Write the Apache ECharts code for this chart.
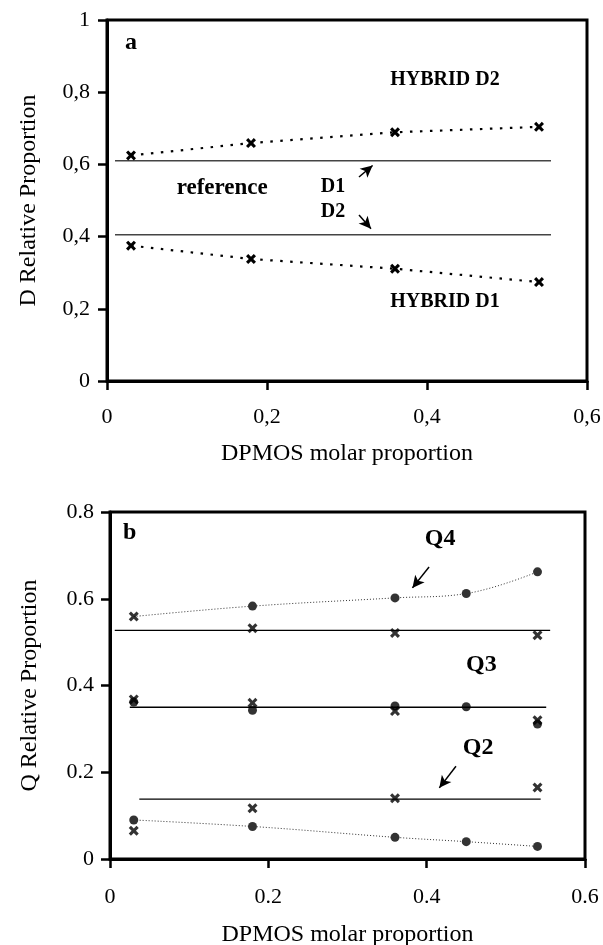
<!DOCTYPE html>
<html>
<head>
<meta charset="utf-8">
<title>D and Q relative proportions</title>
<script src="https://cdn.jsdelivr.net/npm/echarts@6/dist/echarts.min.js"></script>
<style>
  html, body { margin: 0; padding: 0; background: #fff; }
  #chart { width: 603px; height: 945px; }
</style>
</head>
<body>
<div id="chart"></div>
<script>
// panel a : D units
const xA = [0.03, 0.18, 0.36, 0.54];
const hybridD2 = [0.625, 0.659, 0.689, 0.704];
const hybridD1 = [0.375, 0.338, 0.311, 0.274];
const refD = [0.61, 0.405];          // reference D1 / D2 levels
const refSpanA = [0.01, 0.555];

// panel b : Q units
const xCross = [0.03, 0.18, 0.36, 0.54];
const xDot = [0.03, 0.18, 0.36, 0.45, 0.54];
const q4Cross = [0.559, 0.532, 0.521, 0.516];
const q3Cross = [0.368, 0.36, 0.341, 0.32];
const q2Cross = [0.065, 0.117, 0.14, 0.165];
const q4Dot = [null, 0.583, 0.602, 0.612, 0.662];
const q4Curve = [0.559, 0.583, 0.602, 0.612, 0.662];
const q3Dot = [0.362, 0.343, 0.353, 0.351, 0.311];
const q2Dot = [0.09, 0.075, 0.05, 0.04, 0.029];
const refQ = [0.527, 0.35, 0.138];   // Q4, Q3, Q2 reference levels
const refSpanB = [[0.006, 0.556], [0.025, 0.551], [0.037, 0.544]];

const serif = '"Liberation Serif", "DejaVu Serif", serif';
const cross = 'path://M2.2,0L5,2.8L7.8,0L10,2.2L7.2,5L10,7.8L7.8,10L5,7.2L2.2,10L0,7.8L2.8,5L0,2.2Z';

const pairs = (xs, ys) => xs.map((x, i) => ys[i] == null ? null : [x, ys[i]]).filter(p => p);

const chart = echarts.init(document.getElementById('chart'), null, {renderer: 'canvas'});

const axisCommon = {
  type: 'value',
  nameLocation: 'middle',
  nameTextStyle: {fontFamily: serif, fontSize: 24, color: '#000'},
  axisLine: {show: true, onZero: false, lineStyle: {color: '#000', width: 3}},
  axisTick: {show: true, inside: false, length: 9, lineStyle: {color: '#000', width: 2.5}},
  splitLine: {show: false},
  axisLabel: {fontFamily: serif, fontSize: 22, color: '#000'}
};
const commaFmt = v => String(+v.toFixed(1)).replace('.', ',');
const dotFmt = v => String(+v.toFixed(1));

const arrowMark = (pairsList) => ({
  silent: true, symbol: ['none', 'arrow'], symbolSize: [9, 12],
  label: {show: false},
  lineStyle: {color: '#000', width: 1.5, type: 'solid'},
  data: pairsList.map(p => [{coord: p[0]}, {coord: p[1]}])
});

const option = {
  animation: false,
  backgroundColor: '#fff',
  grid: [
    {left: 107, top: 20, width: 480, height: 361, show: true, borderColor: '#000', borderWidth: 3,
      outerBoundsMode: 'none', containLabel: false},
    {left: 110, top: 512, width: 475, height: 347, show: true, borderColor: '#000', borderWidth: 3,
      outerBoundsMode: 'none', containLabel: false}
  ],
  xAxis: [
    Object.assign({}, axisCommon, {
      gridIndex: 0, min: 0, max: 0.6, interval: 0.2, name: 'DPMOS molar proportion', nameGap: 61,
      axisLabel: Object.assign({}, axisCommon.axisLabel, {margin: 25, formatter: commaFmt})
    }),
    Object.assign({}, axisCommon, {
      gridIndex: 1, min: 0, max: 0.6, interval: 0.2, name: 'DPMOS molar proportion', nameGap: 64,
      axisLabel: Object.assign({}, axisCommon.axisLabel, {margin: 27, formatter: dotFmt})
    })
  ],
  yAxis: [
    Object.assign({}, axisCommon, {
      gridIndex: 0, min: 0, max: 1, interval: 0.2, name: 'D Relative Proportion', nameGap: 66,
      axisLabel: Object.assign({}, axisCommon.axisLabel, {margin: 17, formatter: commaFmt})
    }),
    Object.assign({}, axisCommon, {
      gridIndex: 1, min: 0, max: 0.8, interval: 0.2, name: 'Q Relative Proportion', nameGap: 68,
      axisLabel: Object.assign({}, axisCommon.axisLabel, {margin: 16, formatter: dotFmt})
    })
  ],
  series: [
    // panel a reference lines + arrows
    ...refD.map((v, i) => ({
      type: 'line', xAxisIndex: 0, yAxisIndex: 0, showSymbol: false, silent: true,
      data: refSpanA.map(x => [x, v]),
      lineStyle: {color: '#444', width: 1.5},
      markLine: i === 0 ? arrowMark([
        [[0.315, 0.565], [0.332, 0.597]],
        [[0.315, 0.46], [0.33, 0.422]]
      ]) : undefined
    })),
    {
      name: 'HYBRID D2', type: 'line', xAxisIndex: 0, yAxisIndex: 0,
      data: pairs(xA, hybridD2), symbol: cross, symbolSize: 10,
      itemStyle: {color: '#000'}, lineStyle: {color: '#000', width: 2.2, type: [2.5, 7.5]}
    },
    {
      name: 'HYBRID D1', type: 'line', xAxisIndex: 0, yAxisIndex: 0,
      data: pairs(xA, hybridD1), symbol: cross, symbolSize: 10,
      itemStyle: {color: '#000'}, lineStyle: {color: '#000', width: 2.2, type: [2.5, 7.5]}
    },
    // panel b reference lines + arrows
    ...refQ.map((v, i) => ({
      type: 'line', xAxisIndex: 1, yAxisIndex: 1, showSymbol: false, silent: true,
      data: refSpanB[i].map(x => [x, v]),
      lineStyle: {color: '#000', width: 1.4},
      markLine: i === 0 ? arrowMark([
        [[0.403, 0.673], [0.382, 0.625]],
        [[0.437, 0.214], [0.416, 0.164]]
      ]) : undefined
    })),
    {
      type: 'line', xAxisIndex: 1, yAxisIndex: 1, showSymbol: false, smooth: 0.4,
      data: pairs(xDot, q4Curve), lineStyle: {color: '#333', width: 1, type: [1, 2]}
    },
    {
      type: 'line', xAxisIndex: 1, yAxisIndex: 1, showSymbol: false, smooth: 0.4,
      data: pairs(xDot, q2Dot), lineStyle: {color: '#333', width: 1, type: [1, 2]}
    },
    ...[q4Dot, q3Dot, q2Dot].map(d => ({
      type: 'scatter', xAxisIndex: 1, yAxisIndex: 1, symbol: 'circle', symbolSize: 9,
      data: pairs(xDot, d), itemStyle: {color: '#000'}
    })),
    ...[q4Cross, q3Cross, q2Cross].map(d => ({
      type: 'scatter', xAxisIndex: 1, yAxisIndex: 1, symbol: cross, symbolSize: 10,
      data: pairs(xCross, d), itemStyle: {color: '#000'}, z: 3
    }))
  ]
};
chart.setOption(option);

// text annotations placed in data coordinates
const notes = [
  {grid: 0, at: [0.03, 0.936], text: 'a', size: 24},
  {grid: 0, at: [0.4225, 0.834], text: 'HYBRID D2', size: 20},
  {grid: 0, at: [0.144, 0.535], text: 'reference', size: 23},
  {grid: 0, at: [0.2825, 0.537], text: 'D1', size: 20},
  {grid: 0, at: [0.2825, 0.468], text: 'D2', size: 20},
  {grid: 0, at: [0.4225, 0.219], text: 'HYBRID D1', size: 20},
  {grid: 1, at: [0.025, 0.752], text: 'b', size: 24},
  {grid: 1, at: [0.417, 0.738], text: 'Q4', size: 24},
  {grid: 1, at: [0.469, 0.447], text: 'Q3', size: 24},
  {grid: 1, at: [0.465, 0.256], text: 'Q2', size: 24}
];
chart.setOption({
  graphic: notes.map(n => {
    const p = chart.convertToPixel({gridIndex: n.grid}, n.at);
    return {
      type: 'text', x: p[0], y: p[1], silent: true,
      style: {
        text: n.text, fill: '#000', align: 'center', verticalAlign: 'middle',
        font: 'bold ' + n.size + 'px ' + serif
      }
    };
  })
});
</script>
</body>
</html>
